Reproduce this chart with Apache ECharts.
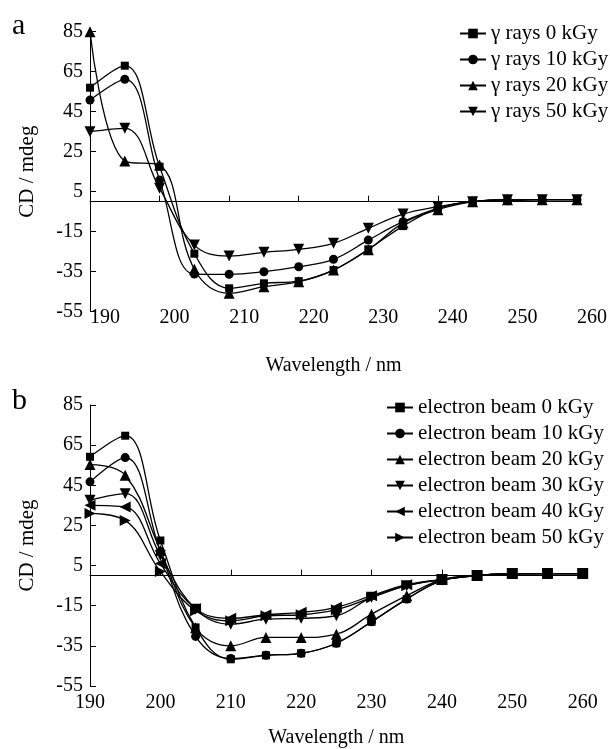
<!DOCTYPE html>
<html>
<head>
<meta charset="utf-8">
<script src="https://cdn.jsdelivr.net/npm/echarts@6/dist/echarts.min.js"></script>
<style>
html,body{margin:0;padding:0;background:#fff;}
#chart{width:610px;height:749px;}
</style>
</head>
<body>
<div id="chart"></div>
<script>
const wavelengths = [190,195,200,205,210,215,220,225,230,235,240,245,250,255,260];
const xTicks = [190,200,210,220,230,240,250,260];
const yTicks = [-55,-35,-15,5,25,45,65,85];

const gammaNames = ['γ rays 0 kGy','γ rays 10 kGy','γ rays 20 kGy','γ rays 50 kGy'];
const gamma0  = [57, 68, 17.5, -26, -43.3, -40.8, -39.7, -34.2, -23.8, -12.2, -3.3, 0, 1, 1, 1];
const gamma10 = [50.8, 61.2, 10.8, -36.2, -36.3, -35, -32.5, -28.8, -19.2, -10, -3.3, 0, 0.5, 1, 1];
const gamma20 = [85, 20.3, 18.3, -33.8, -45.8, -42.5, -40, -34.2, -24, -10.7, -4, 0, 1, 1, 1];
const gamma50 = [35, 36.7, 6.7, -21.7, -27.2, -25.3, -23.8, -20.8, -13.3, -6.2, -2.5, 0, 1, 1, 1];

const ebNames = ['electron beam 0 kGy','electron beam 10 kGy','electron beam 20 kGy','electron beam 30 kGy','electron beam 40 kGy','electron beam 50 kGy'];
const eb0  = [59.2, 69.7, 17.5, -25.8, -41.7, -39.7, -38.7, -33.7, -23, -11.7, -2.2, 0, 0.8, 1, 1];
const eb10 = [46.7, 58.8, 12, -30.3, -41.3, -39.7, -38.7, -33.7, -23, -11.7, -2.5, 0, 1, 1, 1];
const eb20 = [55.3, 50, 12.5, -26, -35, -30.8, -30.8, -29.2, -19.2, -10, -2, 0, 1, 1, 1];
const eb30 = [37.5, 40.8, 10, -16.7, -24.2, -21.7, -21.3, -20, -10.8, -5, -2, 0, 1, 1, 1];
const eb40 = [35, 34.2, 6, -16.5, -21.3, -19.5, -18.3, -15.8, -10, -4.5, -2, 0, 1, 1, 1];
const eb50 = [31, 27.5, 2, -17.5, -22.5, -20, -19.5, -17, -11, -5, -2, 0, 1, 1, 1];

const FONT = 'Liberation Serif';
const chart = echarts.init(document.getElementById('chart'), null, {renderer:'canvas'});

function pairs(vals){ return wavelengths.map((w,i)=>[w, vals[i]]); }

const markers = [
  {symbol:'rect', size:8, rot:0},
  {symbol:'circle', size:9, rot:0},
  {symbol:'triangle', size:11, rot:0},
  {symbol:'triangle', size:11, rot:180},
  {symbol:'triangle', size:11, rot:90},
  {symbol:'triangle', size:11, rot:-90}
];

function mkSeries(name, vals, mi, gi){
  const m = markers[mi];
  return {
    name: name, type:'line', xAxisIndex: gi*2, yAxisIndex: gi,
    data: pairs(vals), smooth: 0.4,
    symbol: m.symbol, symbolSize: m.size, symbolRotate: m.rot,
    lineStyle:{color:'#000', width:1.3},
    itemStyle:{color:'#000'},
    emphasis:{disabled:true}, animation:false
  };
}

const gammaData = [gamma0, gamma10, gamma20, gamma50];
const gammaMarker = [0,1,2,3];
const ebData = [eb0, eb10, eb20, eb30, eb40, eb50];

const series = [];
gammaData.forEach((d,i)=>series.push(mkSeries(gammaNames[i], d, gammaMarker[i], 0)));
ebData.forEach((d,i)=>series.push(mkSeries(ebNames[i], d, i, 1)));

function zeroX(gi){
  return {
    type:'value', gridIndex: gi, min:190, max:260, interval:10,
    axisLine:{show:true, onZero:true, lineStyle:{color:'#000', width:1}},
    axisTick:{show:true, inside:true, length:6, lineStyle:{color:'#000'}},
    axisLabel:{show:false}, splitLine:{show:false}
  };
}
function labelX(gi, shift, margin, nameGap){
  return {
    type:'value', gridIndex: gi, min:190, max:260, interval:10, position:'bottom',
    axisLine:{show:false, onZero:false}, axisTick:{show:false}, splitLine:{show:false},
    axisLabel:{show:true, color:'#000', fontFamily:FONT, fontSize:20, margin: margin,
      padding: shift ? [0,0,0,shift*2] : 0},
    name:'Wavelength / nm', nameLocation:'middle', nameGap: nameGap,
    nameTextStyle:{color:'#000', fontFamily:FONT, fontSize:20}
  };
}
function yAx(gi){
  return {
    type:'value', gridIndex: gi, min:-55, max:85, interval:20,
    axisLine:{show:true, onZero:false, lineStyle:{color:'#000', width:1}},
    axisTick:{show:true, inside:true, length:6, lineStyle:{color:'#000'}},
    axisLabel:{color:'#000', fontFamily:FONT, fontSize:20, margin:7},
    splitLine:{show:false},
    name:'CD / mdeg', nameLocation:'middle', nameGap:52,
    nameTextStyle:{color:'#000', fontFamily:FONT, fontSize:21}
  };
}

const option = {
  animation:false,
  textStyle:{fontFamily:FONT, color:'#000'},
  grid:[
    {left:90, top:31.7, width:492.7, height:280},
    {left:90, top:405, width:492.7, height:281.7}
  ],
  xAxis:[zeroX(0), labelX(0, 15, -4, 44), zeroX(1), labelX(1, 0, 7, 42)],
  yAxis:[yAx(0), yAx(1)],
  legend:[
    {data:gammaNames, orient:'vertical', left:459, top:23, itemWidth:26, itemHeight:12, itemGap:5,
     padding:0, textStyle:{fontFamily:FONT, fontSize:21, color:'#000'}, selectedMode:false},
    {data:ebNames, orient:'vertical', left:386, top:397, itemWidth:26, itemHeight:12, itemGap:5,
     padding:0, textStyle:{fontFamily:FONT, fontSize:21, color:'#000'}, selectedMode:false}
  ],
  graphic:[
    {type:'text', left:12, top:11, style:{text:'a', font:'30px "Liberation Serif"', fill:'#000'}},
    {type:'text', left:12, top:386, style:{text:'b', font:'30px "Liberation Serif"', fill:'#000'}}
  ],
  series: series
};
chart.setOption(option);
</script>
</body>
</html>
